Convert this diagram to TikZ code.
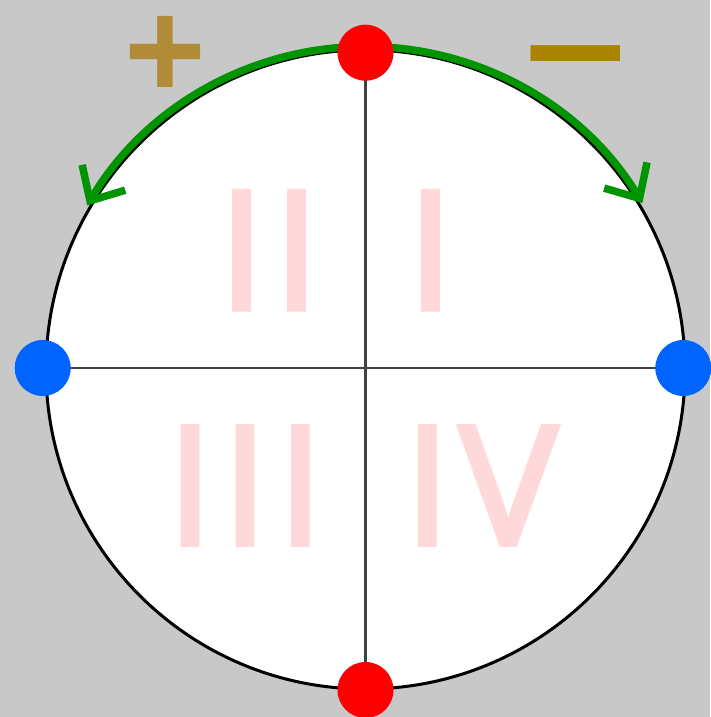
\documentclass[tikz,border=0pt]{standalone}
\usepackage{fontspec}
\usetikzlibrary{arrows.meta}
\IfFontExistsTF{Open Sans SemiBold}
  {\newfontfamily\numfont{Open Sans SemiBold}[LetterSpace=5.5]}
  {\newfontfamily\numfont{Open Sans}[FakeBold=3,LetterSpace=5.5]}
\newfontfamily\signfont{Liberation Sans}
\definecolor{bgc}{HTML}{C8C8C8}
\definecolor{pinkc}{HTML}{FFD8DA}
\definecolor{plusc}{HTML}{B08C38}
\definecolor{minusc}{HTML}{AA8400}
\definecolor{greenc}{HTML}{009400}
\definecolor{redc}{HTML}{FF0000}
\definecolor{bluec}{HTML}{0064FF}
\definecolor{axisc}{HTML}{404040}
\begin{document}
\begin{tikzpicture}[x=1pt,y=1pt,
  dot/.style={circle, fill=#1, inner sep=0, minimum size=56pt},
  numeral/.style={text=pinkc, inner sep=0, anchor=south, font=\numfont\fontsize{165}{165}\selectfont},
  sign/.style={inner sep=0, anchor=north, font=\signfont\bfseries\fontsize{#1}{#1}\selectfont},
  axis/.style={draw=axisc, line width=2.2pt},
  turn/.style={draw=greenc, line width=7.5pt, -{Straight Barb[length=27pt,width=50pt]}}
]
\useasboundingbox (0,0) rectangle (710,717);
\fill[bgc] (0,0) rectangle (710,717);
\node[circle, draw=black, line width=3pt, fill=white, minimum size=639pt, inner sep=0] (disk) at (365.5,347.5) {};
\node[numeral] (q2) at (269,407.7) {II};
\node[numeral] (q1) at (430.5,407.7) {I};
\node[numeral] (q3) at (245,172.5) {III};
\node[numeral] (q4) at (481,172.5) {IV};
\coordinate (T) at (365.5,664.3);
\coordinate (B) at (365.5,27);
\coordinate (L) at (42.7,349);
\coordinate (R) at (683.3,349);
\draw[axis] (T) -- (B);
\draw[axis] (L) -- (R);
\draw[turn] ([shift={(90:323)}]disk.center) arc[start angle=90,end angle=149.5,radius=323];
\draw[turn] ([shift={(90:323)}]disk.center) arc[start angle=90,end angle=31,radius=323];
\node[dot=redc] (top) at (T) {};
\node[dot=redc] (bot) at (B) {};
\node[dot=bluec] (lft) at (L) {};
\node[dot=bluec] (rgt) at (R) {};
\node[sign=140, text=plusc] (plus) at (165.3,701) {+};
\node[sign=160, text=minusc] (minus) at (575.5,671.3) {\scalebox{1.13}[1]{–}};
\end{tikzpicture}
\end{document}
